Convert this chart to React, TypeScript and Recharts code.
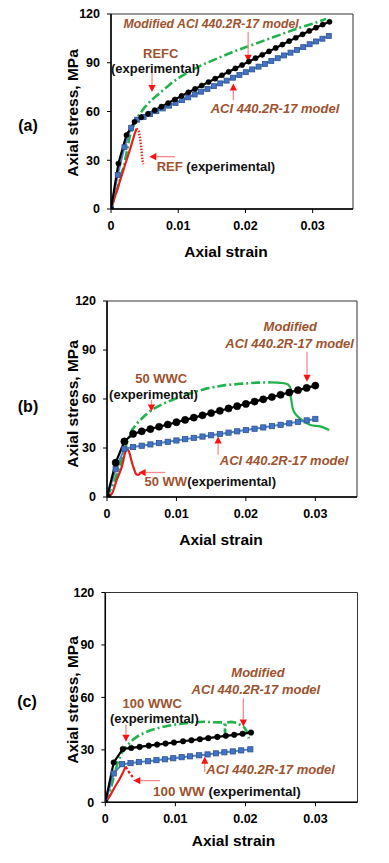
import React from 'react';
import { LineChart, Line, XAxis, YAxis, ReferenceLine, ReferenceDot, ReferenceArea } from 'recharts';

const FONT = '"Liberation Sans", Arial, Helvetica, sans-serif';
const BROWN = '#A0522D';
const GREEN = '#22B24C';
const BLUE_LINE = '#4A86C8';
const BLUE_FILL = '#4472C4';
const BLUE_EDGE = '#2F528F';
const RED = '#E3201B';
const ARROW_SHAFT = '#F28C8C';
const ARROW_HEAD = '#FF1010';

const X_DOMAIN: [number, number] = [0, 0.036];
const X_TICKS = [0, 0.01, 0.02, 0.03];
const Y_DOMAIN: [number, number] = [0, 120];
const Y_TICKS = [0, 30, 60, 90, 120];

// ---------- Panel (a) ----------
const aModStrain = [0, 0.0011, 0.0023, 0.0035, 0.0045, 0.0055, 0.0065, 0.0075, 0.0085, 0.0095, 0.0105, 0.0115, 0.0125, 0.0135, 0.0145, 0.0155, 0.0165, 0.0175, 0.0185, 0.0195, 0.0205, 0.0215, 0.0225, 0.0235, 0.0245, 0.0255, 0.0265, 0.0275, 0.0285, 0.0295, 0.0305, 0.0315, 0.0325];
const aModStress = [0, 28, 45.5, 53.7, 56.5, 58.6, 60.8, 63.0, 65.2, 67.4, 69.6, 71.8, 73.9, 76.0, 78.1, 80.2, 82.3, 84.4, 86.5, 88.6, 90.7, 92.8, 94.9, 97.0, 99.1, 101.2, 103.3, 105.4, 107.5, 109.6, 111.6, 113.5, 115.2];
const aAciStrain = [0, 0.001, 0.002, 0.003, 0.0039, 0.00485, 0.0058, 0.00675, 0.0077, 0.00865, 0.0096, 0.01055, 0.0115, 0.01245, 0.0134, 0.01435, 0.0153, 0.01625, 0.0172, 0.01815, 0.0191, 0.02005, 0.021, 0.02195, 0.0229, 0.02385, 0.0248, 0.02575, 0.0267, 0.02765, 0.0286, 0.02955, 0.0305, 0.03145, 0.0324];
const aAciStress = [0, 21, 38, 50, 55.0, 56.7, 58.4, 60.2, 61.9, 63.6, 65.3, 67.0, 68.7, 70.5, 72.2, 73.9, 75.6, 77.3, 79.0, 80.8, 82.5, 84.2, 85.9, 87.6, 89.3, 91.1, 92.8, 94.5, 96.2, 97.9, 99.6, 101.4, 103.1, 104.8, 106.5];
const aExpCStrain = [0, 0.001, 0.002, 0.0028, 0.0035, 0.004, 0.005, 0.006, 0.007, 0.008, 0.009, 0.01, 0.012, 0.014, 0.016, 0.018, 0.02, 0.022, 0.024, 0.026, 0.028, 0.03, 0.031, 0.032];
const aExpCStress = [0, 13, 28, 45, 53, 57, 62.5, 67, 70.5, 74, 77.5, 80.5, 85.5, 89.5, 93, 96.5, 99.5, 102.5, 105.5, 108.5, 111.5, 114, 115.5, 117];
const aExpStrain = [0, 0.001, 0.002, 0.003, 0.0035, 0.0038];
const aExpStress = [0, 13, 26, 39, 46, 49.5];
const aExpPostStrain = [0.0038, 0.0041, 0.0043, 0.0045, 0.0046, 0.0047, 0.0048];
const aExpPostStress = [49.5, 48, 44, 38, 33, 29.5, 27.5];

// ---------- Panel (b) ----------
const bStrain = [0, 0.00125, 0.0025, 0.00375, 0.005, 0.00625, 0.0075, 0.00875, 0.01, 0.01125, 0.0125, 0.01375, 0.015, 0.01625, 0.0175, 0.01875, 0.02, 0.02125, 0.0225, 0.02375, 0.025, 0.02625, 0.0275, 0.02875, 0.03];
const bModStress = [0, 21, 34, 38.6, 40.2, 41.6, 43.0, 44.4, 45.8, 47.2, 48.6, 50.0, 51.4, 52.8, 54.2, 55.6, 57.0, 58.4, 59.8, 61.2, 62.6, 64.0, 65.4, 66.8, 68.2];
const bAciStress = [0, 17, 29.5, 30.6, 31.4, 32.2, 33.0, 33.8, 34.6, 35.4, 36.2, 37.0, 37.8, 38.6, 39.4, 40.2, 41.0, 41.8, 42.6, 43.4, 44.2, 45.1, 46.0, 46.9, 47.8];
const bExpCStrain = [0, 0.001, 0.002, 0.0026, 0.003, 0.0036, 0.0045, 0.0055, 0.0065, 0.008, 0.01, 0.012, 0.0144, 0.017, 0.0192, 0.0215, 0.0236];
const bExpCStress = [0, 9, 21, 30, 35, 41, 46, 50, 53.5, 57, 60.5, 63.5, 66.5, 68.5, 69.3, 70, 70.2];
const bExpCTailStrain = [0.0236, 0.0252, 0.026, 0.0265, 0.0264, 0.0265, 0.0268, 0.0274, 0.0284, 0.0293, 0.0308, 0.032];
const bExpCTailStress = [70.2, 69.8, 69, 67.2, 63, 60.4, 53.3, 49.6, 46.2, 44.1, 43.1, 41];
const bExpStrain = [0, 0.0007, 0.0014, 0.0022, 0.0026, 0.0029, 0.0032, 0.0035, 0.0039, 0.0042, 0.0045, 0.0048];
const bExpStress = [0, 2, 10.5, 19.5, 27, 29.5, 27.5, 22.5, 17, 14, 13.5, 14.5];

// ---------- Panel (c) ----------
const cModStrain = [0, 0.0012, 0.0025, 0.0037, 0.0049, 0.0062, 0.0074, 0.0086, 0.0098, 0.0111, 0.0123, 0.0135, 0.0147, 0.016, 0.0172, 0.0184, 0.0196, 0.0208];
const cModStress = [0, 22.8, 30.5, 31.1, 31.7, 32.4, 33.0, 33.6, 34.2, 34.9, 35.5, 36.1, 36.7, 37.4, 38.0, 38.6, 39.2, 39.9];
const cAciStrain = [0, 0.0012, 0.0024, 0.0036, 0.0048, 0.0061, 0.0073, 0.0085, 0.0097, 0.0109, 0.0121, 0.0134, 0.0146, 0.0158, 0.017, 0.0182, 0.0194, 0.0207];
const cAciStress = [0, 16.5, 21.8, 22.4, 23.0, 23.5, 24.1, 24.6, 25.2, 25.8, 26.3, 26.9, 27.4, 28.0, 28.6, 29.1, 29.7, 30.3];
const cExpCStrain = [0, 0.0008, 0.0013, 0.0018, 0.0023, 0.003, 0.004, 0.005, 0.0066, 0.008, 0.01, 0.012, 0.014, 0.0155, 0.0165, 0.017, 0.0171, 0.0172, 0.018, 0.0185, 0.019, 0.0198, 0.0202, 0.0205];
const cExpCStress = [0, 8, 16, 23, 28, 32, 36, 38.8, 41.4, 43, 44.5, 45.5, 46.1, 45.8, 45.7, 45.5, 39.5, 45.6, 46, 45.6, 44.8, 43, 40.5, 36.5];
const cExpStrain = [0, 0.0007, 0.0014, 0.002, 0.0024, 0.0029];
const cExpStress = [0, 4, 9, 13, 16, 20.4];
const cExpPostStrain = [0.0029, 0.0032, 0.0035, 0.0039];
const cExpPostStress = [20.4, 18.5, 16.5, 14.5];

type Pt = { x: number; y: number };
const zip = (xs: number[], ys: number[]): Pt[] => xs.map((x, i) => ({ x, y: ys[i] }));

type Part = { t: string; c: string; i?: boolean };
type Annot = { x: number; y: number; parts: Part[]; size: number; anchor: 'start' | 'middle' };
type Arrow = { from: Pt; to: Pt };

type PanelCfg = {
  letter: string;
  top: number;
  height: number;
  margin: { top: number; right: number; bottom: number; left: number };
  letterPos: [number, number];
  yTitlePos: [number, number];
  xTitlePos: [number, number];
  mod: Pt[];
  aci: Pt[];
  expC: Pt[];
  expCTail?: Pt[];
  exp: Pt[];
  expPost?: Pt[];
  expPostDash?: string;
  modR: number;
  sq: number;
  annots: Annot[];
  arrows: Arrow[];
};

const MOD_TXT = 'ACI 440.2R-17 model';

const panels: PanelCfg[] = [
  {
    letter: '(a)', top: 0, height: 290,
    margin: { top: 14, right: 36, bottom: 51, left: 71 },
    letterPos: [28, 126], yTitlePos: [73, 113], xTitlePos: [226, 252],
    mod: zip(aModStrain, aModStress), aci: zip(aAciStrain, aAciStress),
    expC: zip(aExpCStrain, aExpCStress), exp: zip(aExpStrain, aExpStress),
    expPost: zip(aExpPostStrain, aExpPostStress), expPostDash: '1.5 1.5',
    modR: 2.6, sq: 5,
    annots: [
      { x: 0.0149, y: 113.8, size: 12.3, anchor: 'middle', parts: [{ t: 'Modified ' + MOD_TXT, c: BROWN, i: true }] },
      { x: 0.0074, y: 96, size: 13, anchor: 'middle', parts: [{ t: 'REFC', c: BROWN }] },
      { x: 0.0066, y: 86.6, size: 13, anchor: 'middle', parts: [{ t: '(experimental)', c: '#111' }] },
      { x: 0.0244, y: 62, size: 13, anchor: 'middle', parts: [{ t: MOD_TXT, c: BROWN, i: true }] },
      { x: 0.0068, y: 26.6, size: 13, anchor: 'start', parts: [{ t: 'REF ', c: BROWN }, { t: '(experimental)', c: '#111' }] },
    ],
    arrows: [
      { from: { x: 0.0061, y: 84 }, to: { x: 0.0061, y: 72 } },
      { from: { x: 0.0204, y: 109 }, to: { x: 0.0204, y: 90.6 } },
      { from: { x: 0.0182, y: 67 }, to: { x: 0.0182, y: 77.3 } },
      { from: { x: 0.0095, y: 32.2 }, to: { x: 0.0057, y: 32.2 } },
    ],
  },
  {
    letter: '(b)', top: 280, height: 290,
    margin: { top: 21, right: 32, bottom: 43, left: 67 },
    letterPos: [28, 406.7], yTitlePos: [73, 404], xTitlePos: [221, 540],
    mod: zip(bStrain, bModStress), aci: zip(bStrain, bAciStress),
    expC: zip(bExpCStrain, bExpCStress), expCTail: zip(bExpCTailStrain, bExpCTailStress),
    exp: zip(bExpStrain, bExpStress),
    modR: 3.6, sq: 5.2,
    annots: [
      { x: 0.0264, y: 104.8, size: 13, anchor: 'middle', parts: [{ t: 'Modified', c: BROWN, i: true }] },
      { x: 0.0263, y: 94, size: 13, anchor: 'middle', parts: [{ t: MOD_TXT, c: BROWN, i: true }] },
      { x: 0.0078, y: 72.8, size: 13, anchor: 'middle', parts: [{ t: '50 WWC', c: BROWN }] },
      { x: 0.0067, y: 63, size: 13, anchor: 'middle', parts: [{ t: '(experimental)', c: '#111' }] },
      { x: 0.0255, y: 22.8, size: 13, anchor: 'middle', parts: [{ t: MOD_TXT, c: BROWN, i: true }] },
      { x: 0.0054, y: 9.5, size: 13, anchor: 'start', parts: [{ t: '50 WW', c: BROWN }, { t: '(experimental)', c: '#111' }] },
    ],
    arrows: [
      { from: { x: 0.0288, y: 88.9 }, to: { x: 0.0288, y: 70.6 } },
      { from: { x: 0.0064, y: 59.5 }, to: { x: 0.0064, y: 52.3 } },
      { from: { x: 0.016, y: 25.8 }, to: { x: 0.016, y: 37 } },
      { from: { x: 0.0084, y: 15 }, to: { x: 0.00455, y: 15 } },
    ],
  },
  {
    letter: '(c)', top: 570, height: 293,
    margin: { top: 22.5, right: 31.5, bottom: 30.7, left: 65.3 },
    letterPos: [27, 701.7], yTitlePos: [73, 700], xTitlePos: [233.5, 841],
    mod: zip(cModStrain, cModStress), aci: zip(cAciStrain, cAciStress),
    expC: zip(cExpCStrain, cExpCStress), exp: zip(cExpStrain, cExpStress),
    expPost: zip(cExpPostStrain, cExpPostStress), expPostDash: '3 2',
    modR: 2.8, sq: 5.2,
    annots: [
      { x: 0.0218, y: 74.8, size: 13, anchor: 'middle', parts: [{ t: 'Modified', c: BROWN, i: true }] },
      { x: 0.0215, y: 64.9, size: 13, anchor: 'middle', parts: [{ t: MOD_TXT, c: BROWN, i: true }] },
      { x: 0.0067, y: 56.8, size: 13, anchor: 'middle', parts: [{ t: '100 WWC', c: BROWN }] },
      { x: 0.007, y: 48.5, size: 13, anchor: 'middle', parts: [{ t: '(experimental)', c: '#111' }] },
      { x: 0.0236, y: 19.1, size: 13, anchor: 'middle', parts: [{ t: MOD_TXT, c: BROWN, i: true }] },
      { x: 0.0068, y: 6.6, size: 13.5, anchor: 'start', parts: [{ t: '100 WW ', c: BROWN }, { t: '(experimental)', c: '#111' }] },
    ],
    arrows: [
      { from: { x: 0.0197, y: 59.5 }, to: { x: 0.0197, y: 43.3 } },
      { from: { x: 0.00295, y: 44.5 }, to: { x: 0.00295, y: 34.7 } },
      { from: { x: 0.0142, y: 17.5 }, to: { x: 0.0142, y: 26.1 } },
      { from: { x: 0.0078, y: 12.4 }, to: { x: 0.004, y: 12.4 } },
    ],
  },
];

const squareDot = (size: number) => (p: any) => (
  <rect key={`sq-${p.index}`} x={p.cx - size / 2} y={p.cy - size / 2} width={size} height={size}
    fill={BLUE_FILL} stroke={BLUE_EDGE} strokeWidth={0.8} />
);

const arrowShape = (p: any) => {
  const { x1, y1, x2, y2 } = p;
  const dx = x2 - x1, dy = y2 - y1;
  const len = Math.sqrt(dx * dx + dy * dy) || 1;
  const ux = dx / len, uy = dy / len;
  const hl = 7, hw = 3.6;
  const bx = x2 - ux * hl, by = y2 - uy * hl;
  const pts = `${x2},${y2} ${bx - uy * hw},${by + ux * hw} ${bx + uy * hw},${by - ux * hw}`;
  return (
    <g>
      <line x1={x1} y1={y1} x2={bx} y2={by} stroke={ARROW_SHAFT} strokeWidth={1.3} />
      <polygon points={pts} fill={ARROW_HEAD} />
    </g>
  );
};

const textShape = (a: Annot) => (p: any) => (
  <text x={p.cx} y={p.cy} textAnchor={a.anchor} dominantBaseline="central"
    fontFamily={FONT} fontWeight="bold" fontSize={a.size}>
    {a.parts.map((pt, i) => (
      <tspan key={i} fill={pt.c} fontStyle={pt.i ? 'italic' : 'normal'}>{pt.t}</tspan>
    ))}
  </text>
);

const tickStyle = { fill: '#000', fontSize: 12.5, fontWeight: 'bold' as const, fontFamily: FONT };

function Panel({ cfg }: { cfg: PanelCfg }) {
  return (
    <div style={{ position: 'absolute', left: 0, top: cfg.top, width: 389, height: cfg.height }}>
      <LineChart width={389} height={cfg.height} margin={cfg.margin}>
        <XAxis type="number" dataKey="x" domain={X_DOMAIN} ticks={X_TICKS} allowDataOverflow
          tickFormatter={(v: number) => (v === 0 ? '0' : String(v))}
          tick={tickStyle} tickSize={4} tickMargin={8} height={30}
          axisLine={{ stroke: '#000', strokeWidth: 1.5 }} tickLine={{ stroke: '#000' }} />
        <YAxis type="number" dataKey="y" domain={Y_DOMAIN} ticks={Y_TICKS} allowDataOverflow
          tick={tickStyle} tickSize={4} tickMargin={7} width={40}
          axisLine={{ stroke: '#000', strokeWidth: 1.5 }} tickLine={{ stroke: '#000' }} />
        <ReferenceArea x1={0} x2={0.036} y1={0} y2={120} fill="none" stroke="#333" strokeWidth={1} />
        <Line data={cfg.expC} dataKey="y" type="linear" stroke={GREEN} strokeWidth={2.6}
          strokeDasharray="9 3 2 3" dot={false} activeDot={false} isAnimationActive={false} />
        {cfg.expCTail && (
          <Line data={cfg.expCTail} dataKey="y" type="monotone" stroke={GREEN} strokeWidth={2.2}
            dot={false} activeDot={false} isAnimationActive={false} />
        )}
        <Line data={cfg.exp} dataKey="y" type="monotone" stroke={RED} strokeWidth={2.2}
          dot={false} activeDot={false} isAnimationActive={false} />
        {cfg.expPost && (
          <Line data={cfg.expPost} dataKey="y" type="linear" stroke={RED} strokeWidth={2.4}
            strokeDasharray={cfg.expPostDash} dot={false} activeDot={false} isAnimationActive={false} />
        )}
        <Line data={cfg.aci} dataKey="y" type="linear" stroke={BLUE_LINE} strokeWidth={2}
          dot={squareDot(cfg.sq)} activeDot={false} isAnimationActive={false} />
        <Line data={cfg.mod} dataKey="y" type="linear" stroke="#000" strokeWidth={2.2}
          dot={{ r: cfg.modR, fill: '#000', stroke: '#000', strokeWidth: 0.5 }} activeDot={false} isAnimationActive={false} />
        {cfg.arrows.map((ar, i) => (
          <ReferenceLine key={`ar${i}`} segment={[ar.from, ar.to]} shape={arrowShape} />
        ))}
        {cfg.annots.map((a, i) => (
          <ReferenceDot key={`an${i}`} x={a.x} y={a.y} r={0} shape={textShape(a)} />
        ))}
      </LineChart>
    </div>
  );
}

const absText = (x: number, y: number, rotate = 0): React.CSSProperties => ({
  position: 'absolute', left: x, top: y, transform: `translate(-50%, -50%) rotate(${rotate}deg)`,
  whiteSpace: 'nowrap', fontFamily: FONT, fontWeight: 'bold', color: '#000', lineHeight: 1,
});

export default function App() {
  return (
    <div style={{ position: 'absolute', left: 0, top: 0, width: 389, height: 863, background: '#fff', overflow: 'hidden' }}>
      {panels.map((cfg) => (
        <React.Fragment key={cfg.letter}>
          <Panel cfg={cfg} />
          <div style={{ ...absText(cfg.letterPos[0], cfg.letterPos[1]), fontSize: 16 }}>{cfg.letter}</div>
          <div style={{ ...absText(cfg.yTitlePos[0], cfg.yTitlePos[1], -90), fontSize: 15.5 }}>Axial stress, MPa</div>
          <div style={{ ...absText(cfg.xTitlePos[0], cfg.xTitlePos[1]), fontSize: 15.5 }}>Axial strain</div>
        </React.Fragment>
      ))}
    </div>
  );
}
